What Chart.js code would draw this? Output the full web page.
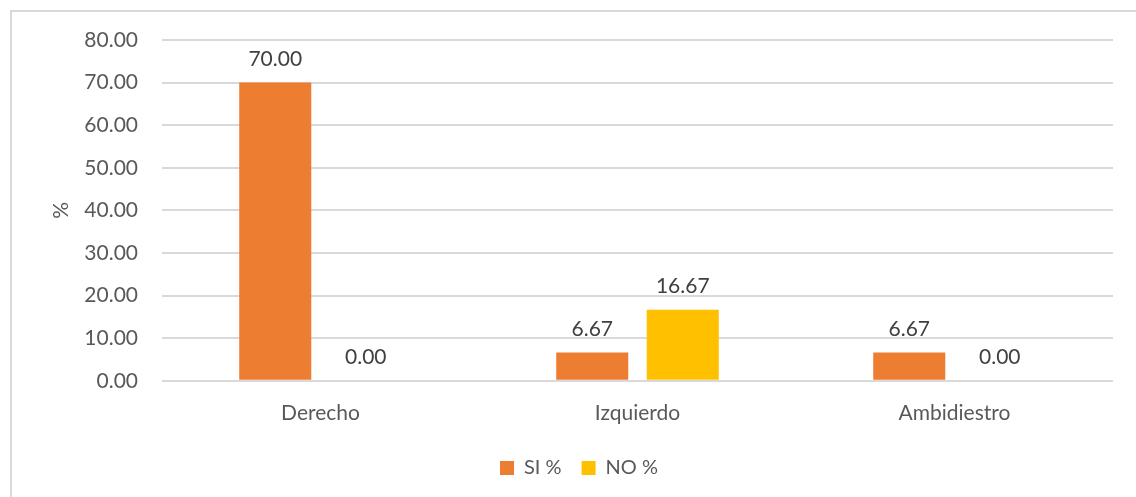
<!DOCTYPE html>
<html>
<head>
<meta charset="utf-8">
<script src="https://cdn.jsdelivr.net/npm/chart.js@4"></script>
<style>
  html, body { margin: 0; padding: 0; background: #fff; }
  #frame { position: absolute; left: 10px; top: 10px; width: 1140px; height: 500px; border: 2px solid #D9D9D9; box-sizing: border-box; }
  #wrap { position: absolute; left: 0; top: 0; width: 1136px; height: 497px; }
</style>
</head>
<body>
<div id="frame"></div>
<div id="wrap"><canvas id="handChart"></canvas></div>
<script>
const categories = ['Derecho', 'Izquierdo', 'Ambidiestro'];
const siValues = [70.00, 6.67, 6.67];
const noValues = [0.00, 16.67, 0.00];
const yTicks = [0, 10, 20, 30, 40, 50, 60, 70, 80];

const FONT = 'Lato, "Open Sans", sans-serif';

// writes each bar's value just above it
const valueLabels = {
  id: 'valueLabels',
  afterDatasetsDraw(chart) {
    const ctx = chart.ctx;
    ctx.save();
    ctx.font = '21px ' + FONT;
    ctx.fillStyle = '#404040';
    ctx.textAlign = 'center';
    ctx.textBaseline = 'bottom';
    chart.data.datasets.forEach((ds, i) => {
      chart.getDatasetMeta(i).data.forEach((bar, j) => {
        ctx.fillText(ds.data[j].toFixed(2), bar.x, bar.y - 13);
      });
    });
    ctx.restore();
  }
};

new Chart(document.getElementById('handChart'), {
  type: 'bar',
  data: {
    labels: categories,
    datasets: [
      { label: 'SI %', data: siValues, backgroundColor: '#ED7D31' },
      { label: 'NO %', data: noValues, backgroundColor: '#FFC000' }
    ]
  },
  options: {
    responsive: true,
    maintainAspectRatio: false,
    animation: false,
    layout: { padding: { left: 45, right: 23, top: 40, bottom: 9 } },
    datasets: { bar: { categoryPercentage: 0.571, barPercentage: 0.796 } },
    plugins: {
      legend: {
        position: 'bottom',
        labels: {
          color: '#595959',
          font: { family: FONT, size: 20 },
          boxWidth: 14,
          boxHeight: 14,
          padding: 20
        }
      },
      tooltip: { enabled: false }
    },
    scales: {
      x: {
        grid: { display: false },
        border: { display: false },
        ticks: { color: '#595959', font: { family: FONT, size: 21 }, padding: 12 }
      },
      y: {
        min: 0,
        max: 80,
        afterBuildTicks: (scale) => { scale.ticks = yTicks.map(v => ({ value: v })); },
        afterFit: (scale) => { scale.width = 117; },
        grid: { color: '#D9D9D9', lineWidth: 2, drawTicks: false },
        border: { display: false },
        ticks: {
          color: '#595959',
          font: { family: FONT, size: 21 },
          padding: 24,
          callback: v => v.toFixed(2)
        },
        title: { display: true, text: '%', color: '#595959', font: { family: FONT, size: 21 } }
      }
    }
  },
  plugins: [valueLabels]
});
</script>
</body>
</html>
